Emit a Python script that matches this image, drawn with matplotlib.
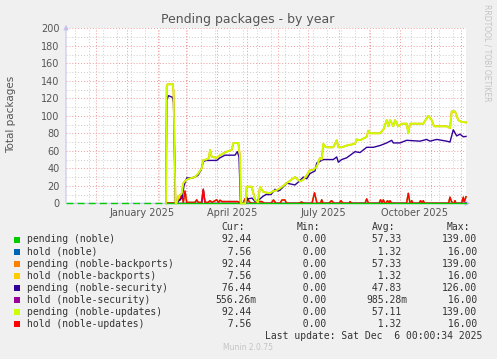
import datetime as dt
import matplotlib
matplotlib.use("Agg")
import matplotlib.pyplot as plt
import matplotlib.dates as mdates
import matplotlib.ticker as mticker
from matplotlib.patches import Rectangle

W, H = 497, 359

# graph window (munin "by year" = 400 days)
start = dt.datetime(2024, 11, 1, 0, 0, 34)
end = dt.datetime(2025, 12, 6, 0, 0, 34)

# pending (noble) - flat at zero; first part has gaps
noble_days = [0, 100, 400]
noble_vals = [0, 0, 0]

# pending (noble-updates)  (also pending noble-backports)
upd_days = [100, 100.7, 101.5, 106.7, 107.5, 109.5, 110.7, 112.3, 115.7, 117.3, 120, 124, 129,
            132.3, 135.7, 137.3, 140.7, 143, 144, 145.7, 150.7, 154, 157.3, 160.7, 165.7, 167.3,
            172.3, 174, 174.7, 179.5, 180.7, 185.7, 189, 192, 194, 197.3, 204, 207.3, 210.7, 214,
            220.7, 229, 234, 237.3, 240.7, 244, 247.3, 250.7, 254, 255.7, 257.3, 259, 260.7, 267.3,
            270.7, 272.3, 275.7, 280.7, 289, 290.7, 294, 300.7, 302.3, 304, 314, 317.3, 320.7,
            322.3, 324, 327.3, 329, 332.3, 335.7, 340.7, 342.3, 344, 354, 357.3, 362.3, 365.7, 368,
            380.7, 384, 385.7, 389, 392.3, 395.7, 400]
upd_vals = [0, 133, 136, 136, 128, 0, 0, 7.6, 11, 23, 26.6, 28.5, 30,
            34, 40, 49.5, 50, 52, 61, 53, 52, 55, 57, 59, 61, 68.6,
            69, 53, 0, 0, 19, 19, 4, 1, 19, 13, 11.4, 14, 15, 17,
            23, 30, 25, 27, 32, 38, 38, 42, 52, 50, 68, 65, 64, 64,
            72, 64, 64, 66, 68, 73, 72, 76, 83, 80, 80, 84, 95,
            88, 95, 88, 95, 88, 91, 91, 80, 91, 91, 91, 100, 95, 88,
            88, 86, 105, 105, 95, 93, 92.44]

# pending (noble-security)
sec_days = [100, 100.7, 102.5, 106.7, 107.5, 109.5, 111, 113, 116, 118, 120.7, 125.7, 129, 132,
            135, 137.3, 140.7, 145.7, 150.7, 154, 159, 169, 171.3, 173, 174.5, 180, 182, 186,
            189, 194, 197, 200, 205, 209, 212, 214, 220.7, 229, 234, 237.3, 240.7, 244, 249,
            250.7, 254, 257.3, 267.3, 270.7, 272.3, 275.7, 280.7, 289, 294, 300.7, 307.3, 314,
            320.7, 325.7, 327.3, 334, 340.7, 354, 360.7, 364, 370.7, 380.7, 384, 387.3, 390.7,
            394, 397.3, 400]
sec_vals = [0, 118, 123, 121, 115, 0, 0, 3, 6, 20, 29, 29, 30, 32,
            38, 48, 49, 49, 49, 52, 55, 55, 59, 53, 0, 0, 5, 6,
            2, 5, 8, 10, 10, 16, 14, 15, 23, 21, 26, 30, 28, 34, 37,
            46, 48, 50, 50, 53, 47, 50, 52, 59, 58, 64, 64, 66,
            69, 72, 69, 69, 72, 71, 73, 71, 73, 71, 70, 84, 77,
            79, 76, 76.44]

# hold (noble-updates)  (also hold noble / noble-backports)
hold_days = [100, 106, 108, 110, 112, 114, 115.7, 117.3, 119, 120.7, 124, 129, 130.7, 132.3,
             135.5, 137.3, 139, 142, 144, 146, 150.7, 152.5, 154, 156, 172, 174, 177, 179,
             180.7, 182.5, 184, 186, 190, 192, 196, 198, 205, 207.5, 210, 214, 216, 219, 220.5,
             233, 235.5, 238, 246, 248.5, 251, 254.5, 255.7, 257, 263, 265.5, 268, 273, 275,
             277, 283, 284, 285.5, 299, 300.7, 302.5, 313, 314.5, 316, 317.3, 319, 320, 321.5,
             323, 324, 325.5, 340.5, 342.3, 344, 345, 345.7, 347, 353, 354.5, 356, 357.3, 358.5,
             382.5, 384, 385.5, 387, 388, 389, 390, 395.5, 397.3, 398, 399, 400]
hold_vals = [0, 0.5, 0, 1, 4, 4, 11, 1, 14, 1, 1, 1, 4, 1,
             1, 16, 1, 1, 3, 1, 4, 1, 3.5, 2, 2, 0, 0, 5,
             7, 3, 1, 0, 0, 2, 2, 0, 0, 3.8, 0, 0, 3.8, 3.8, 0,
             0, 1.5, 0, 0, 12, 0, 0, 4, 0, 0, 3, 0, 0, 3,
             0, 0, 2, 0, 0, 5, 0, 0, 4, 0.5, 4, 0, 0, 3,
             0.5, 3, 0, 0, 11.4, 0, 0, 3, 0, 0, 3, 0.5, 3, 0,
             0, 7, 2, 0, 0, 3, 0, 0, 7, 2, 4, 7.56]

# hold (noble-security)
hsec_days = [100, 136, 137.3, 139, 398, 400]
hsec_vals = [0, 0, 16, 0, 0, 0.56]

labels = ["pending (noble)", "hold (noble)", "pending (noble-backports)",
          "hold (noble-backports)", "pending (noble-security)", "hold (noble-security)",
          "pending (noble-updates)", "hold (noble-updates)"]
colors = ["#00CC00", "#0066B3", "#FF8000", "#FFCC00", "#330099", "#990099", "#CCFF00", "#FF0000"]
cur_txt = ["92.44", "7.56", "92.44", "7.56", "76.44", "556.26m", "92.44", "7.56"]
min_txt = ["0.00"] * 8
avg_txt = ["57.33", "1.32", "57.33", "1.32", "47.83", "985.28m", "57.11", "1.32"]
max_txt = ["139.00", "16.00", "139.00", "16.00", "126.00", "16.00", "139.00", "16.00"]

month_labels = ["January 2025", "April 2025", "July 2025", "October 2025"]
month_label_dates = [dt.datetime(2025, 1, 16), dt.datetime(2025, 4, 16),
                     dt.datetime(2025, 7, 16), dt.datetime(2025, 10, 16)]


def days_to_dates(days):
    return [start + dt.timedelta(days=d) for d in days]


def fx(x):
    return x / W


def fy(y):
    return 1 - y / H


fig = plt.figure(figsize=(W / 100, H / 100), dpi=100, facecolor="#F0F0F0")
ax = fig.add_axes([fx(66), fy(203.3), 400 / W, 175 / H], facecolor="white")

ax.set_xlim(start, end)
ax.set_ylim(0, 200)

# grid
ax.set_yticks(range(0, 201, 20))
ax.set_yticks(range(10, 200, 20), minor=True)
ax.xaxis.set_major_locator(mdates.MonthLocator())
biweekly = [dt.datetime(2024, 11, 10) + dt.timedelta(days=14 * k) for k in range(29)]
ax.xaxis.set_minor_locator(mticker.FixedLocator(mdates.date2num(biweekly)))
ax.xaxis.set_major_formatter(mticker.NullFormatter())
ax.grid(which="minor", color="#cccccc", linestyle=(0, (1, 2)), linewidth=0.7, zorder=0)
ax.grid(which="major", color="#ee9a9a", linestyle=(0, (1, 2)), linewidth=0.7, zorder=0)
ax.tick_params(which="both", length=0)
ax.tick_params(axis="y", labelsize=7, labelcolor="#555555", pad=4.5)
for s in ax.spines.values():
    s.set_visible(False)

# axis arrows (under the data lines)
axis_col = "#c4c4f0"
ax.annotate("", xy=(0, 1.036), xytext=(0, -0.01), xycoords="axes fraction",
            arrowprops=dict(arrowstyle="-|>", color=axis_col, lw=0.8, mutation_scale=7),
            annotation_clip=False, zorder=1)
ax.annotate("", xy=(1.0175, 0), xytext=(-0.005, 0), xycoords="axes fraction",
            arrowprops=dict(arrowstyle="-|>", color=axis_col, lw=0.8, mutation_scale=7),
            annotation_clip=False, zorder=1)

# series, munin drawing order
lw = 1.0
kw = dict(clip_on=False, zorder=3)
ax.plot(days_to_dates(hold_days), hold_vals, color=colors[1], lw=lw, **kw)
ax.plot(days_to_dates(upd_days), upd_vals, color=colors[2], lw=1.3, **kw)
ax.plot(days_to_dates(hold_days), hold_vals, color=colors[3], lw=lw, **kw)
ax.plot(days_to_dates(hsec_days), hsec_vals, color=colors[5], lw=lw, **kw)
ax.plot(days_to_dates(hold_days), hold_vals, color=colors[7], lw=lw, **kw)
nd = days_to_dates(noble_days)
ax.plot(nd[:2], noble_vals[:2], color=colors[0], lw=lw, linestyle=(0, (5, 3)), **kw)
ax.plot(nd[1:], noble_vals[1:], color=colors[0], lw=lw, **kw)
ax.plot(days_to_dates(sec_days), sec_vals, color=colors[4], lw=lw, **kw)
ax.plot(days_to_dates(upd_days), upd_vals, color=colors[6], lw=1.3, **kw)

for d, t in zip(month_label_dates, month_labels):
    ax.text(d, -0.056, t, transform=ax.get_xaxis_transform(), ha="center", va="center",
            fontsize=7, color="#555555")

fig.text(fx(248), fy(19), "Pending packages - by year", ha="center", va="center",
         fontsize=9, color="#555555")
fig.text(fx(11), fy(114), "Total packages", rotation=90, ha="center", va="center",
         fontsize=7.5, color="#555555")
fig.text(fx(487), fy(53), "RRDTOOL / TOBI OETIKER", rotation=270, ha="center", va="center",
         fontsize=5.5, color="#c4c4c4")

# legend block
mono = dict(family="DejaVu Sans Mono", fontsize=7, color="#333333", va="center")
for x, t in zip([221.7, 296.7, 371.7, 446.7], ["Cur:", "Min:", "Avg:", "Max:"]):
    fig.text(fx(x), fy(227), t, ha="left", **mono)


def fmt(s):
    if s.endswith("m"):
        return s[:-1].rjust(6) + "m"
    return s.rjust(6)


for i, lab in enumerate(labels):
    y = 239.5 + 12.03 * i
    fig.patches.append(Rectangle((fx(14), fy(y + 3)), 6 / W, 6 / H, transform=fig.transFigure,
                                 facecolor=colors[i], edgecolor="none"))
    fig.text(fx(26.7), fy(y), lab, ha="left", **mono)
    fig.text(fx(215.8), fy(y), fmt(cur_txt[i]), ha="left", **mono)
    fig.text(fx(290.7), fy(y), fmt(min_txt[i]), ha="left", **mono)
    fig.text(fx(366.4), fy(y), fmt(avg_txt[i]), ha="left", **mono)
    fig.text(fx(441.7), fy(y), fmt(max_txt[i]), ha="left", **mono)

fig.text(fx(482.5), fy(335.7), "Last update: Sat Dec  6 00:00:34 2025", ha="right", **mono)
fig.text(fx(248), fy(347), "Munin 2.0.75", ha="center", va="center", fontsize=5.5,
         color="#c4c4c4")

fig.savefig("out.png", dpi=100, facecolor=fig.get_facecolor())
